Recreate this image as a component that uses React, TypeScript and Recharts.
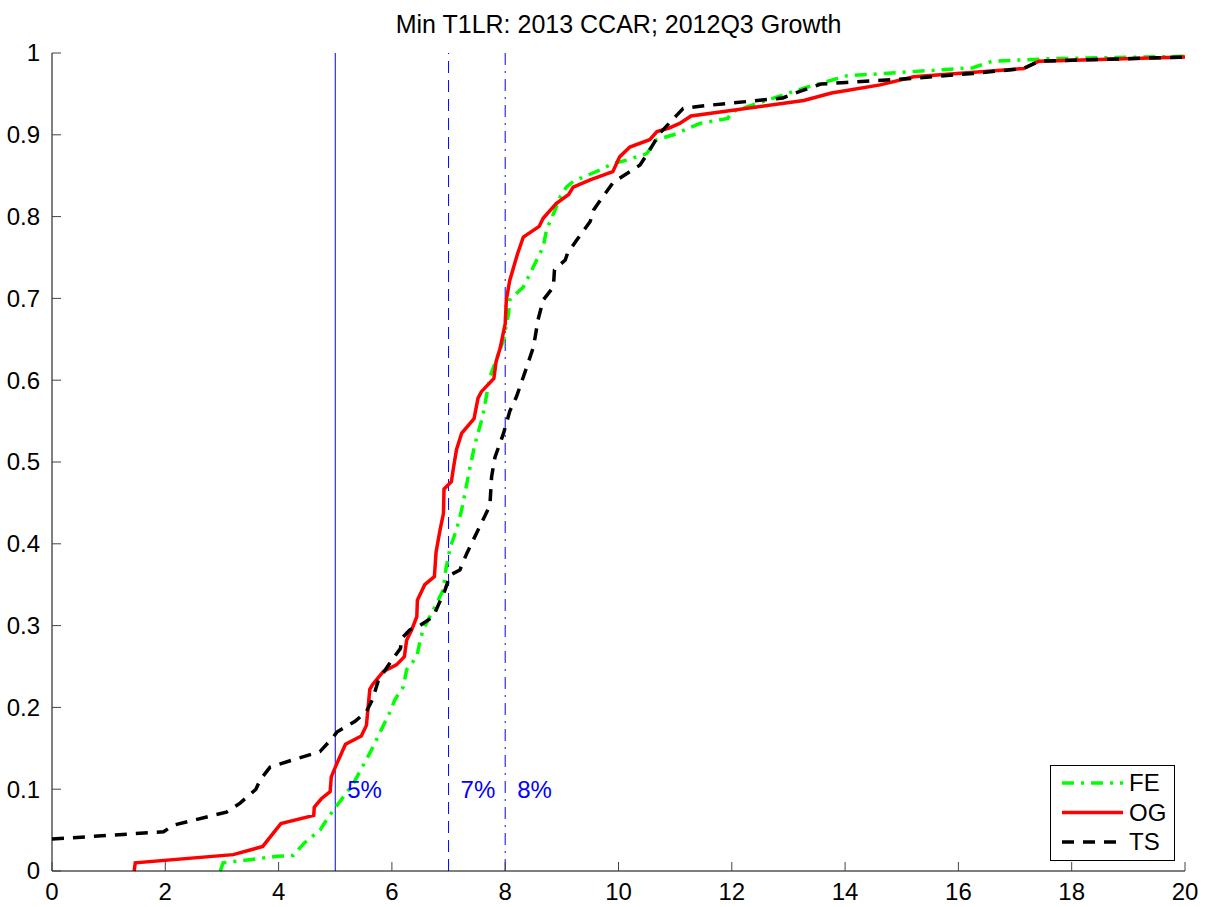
import { LineChart, Line, XAxis, YAxis, ReferenceLine, ReferenceDot, Legend } from 'recharts'

const FONT = '"Liberation Sans", Arial, sans-serif'

// FE: green dash-dot
const feX = [2.97, 3.02, 3.98, 4.26, 4.45, 4.73, 4.88, 5.03, 5.32, 5.61, 5.97, 6.05, 6.2, 6.26, 6.44, 6.5, 6.55, 6.73, 6.91, 6.94, 7.03, 7.14, 7.23, 7.29, 7.38, 7.47, 7.6, 7.73, 7.97, 8.06, 8.08, 8.32, 8.5, 8.67, 8.73, 8.88, 8.97, 9.08, 9.2, 9.67, 9.91, 10.14, 10.5, 10.67, 10.97, 11.44, 11.93, 12.0, 13.27, 14.02, 15.14, 16.26, 16.6, 17.6, 20]
const feY = [0, 0.01, 0.018, 0.019, 0.034, 0.05, 0.066, 0.08, 0.107, 0.144, 0.195, 0.209, 0.225, 0.246, 0.262, 0.282, 0.295, 0.319, 0.344, 0.364, 0.396, 0.417, 0.441, 0.462, 0.494, 0.523, 0.555, 0.604, 0.649, 0.682, 0.698, 0.714, 0.739, 0.763, 0.784, 0.808, 0.824, 0.836, 0.843, 0.857, 0.865, 0.869, 0.877, 0.894, 0.9, 0.914, 0.92, 0.928, 0.957, 0.972, 0.977, 0.982, 0.99, 0.993, 0.996]

// OG: red solid
const ogX = [1.45, 1.47, 3.2, 3.72, 4.04, 4.62, 4.63, 4.75, 4.91, 4.93, 5.02, 5.18, 5.46, 5.55, 5.58, 5.61, 5.66, 5.85, 6.08, 6.22, 6.26, 6.35, 6.44, 6.45, 6.58, 6.75, 6.78, 6.85, 6.91, 6.92, 7.05, 7.08, 7.14, 7.23, 7.45, 7.52, 7.58, 7.8, 7.84, 7.91, 8.0, 8.02, 8.08, 8.22, 8.32, 8.6, 8.67, 8.9, 9.12, 9.2, 9.5, 9.9, 10.02, 10.2, 10.55, 10.68, 10.88, 11.08, 11.28, 13.27, 13.76, 14.62, 15.21, 17.15, 17.42, 20]
const ogY = [0, 0.01, 0.02, 0.03, 0.058, 0.068, 0.078, 0.088, 0.097, 0.115, 0.13, 0.155, 0.165, 0.178, 0.2, 0.222, 0.228, 0.244, 0.252, 0.262, 0.282, 0.295, 0.311, 0.331, 0.35, 0.36, 0.39, 0.417, 0.437, 0.467, 0.476, 0.49, 0.515, 0.535, 0.553, 0.578, 0.586, 0.602, 0.623, 0.639, 0.669, 0.698, 0.722, 0.755, 0.775, 0.788, 0.798, 0.816, 0.827, 0.836, 0.845, 0.855, 0.873, 0.885, 0.894, 0.904, 0.908, 0.914, 0.923, 0.942, 0.951, 0.961, 0.971, 0.981, 0.99, 0.995]

// TS: black dashed
const tsX = [0, 1.97, 2.14, 3.08, 3.32, 3.6, 3.67, 3.85, 4.26, 4.73, 4.97, 5.03, 5.35, 5.55, 5.66, 5.76, 6.0, 6.15, 6.18, 6.32, 6.47, 6.73, 6.94, 7.03, 7.2, 7.32, 7.55, 7.73, 7.76, 7.82, 7.97, 8.08, 8.2, 8.38, 8.5, 8.58, 8.67, 8.85, 8.87, 9.06, 9.1, 9.26, 9.5, 9.56, 9.68, 9.91, 10.38, 10.53, 10.73, 11.03, 11.14, 11.44, 12.9, 13.2, 13.57, 14.02, 15.21, 16.26, 17.15, 17.42, 20]
const tsY = [0.039, 0.048, 0.056, 0.072, 0.083, 0.1, 0.111, 0.127, 0.136, 0.146, 0.164, 0.17, 0.183, 0.195, 0.21, 0.233, 0.258, 0.272, 0.285, 0.295, 0.299, 0.311, 0.344, 0.362, 0.368, 0.388, 0.421, 0.447, 0.482, 0.506, 0.535, 0.562, 0.58, 0.616, 0.641, 0.674, 0.698, 0.714, 0.735, 0.747, 0.755, 0.771, 0.794, 0.808, 0.82, 0.842, 0.863, 0.879, 0.902, 0.924, 0.932, 0.935, 0.945, 0.953, 0.962, 0.964, 0.969, 0.975, 0.981, 0.99, 0.995]

const xTicks = [0, 2, 4, 6, 8, 10, 12, 14, 16, 18, 20]
const yTicks = [0, 0.1, 0.2, 0.3, 0.4, 0.5, 0.6, 0.7, 0.8, 0.9, 1]
const yTickLabels = ['0', '0.1', '0.2', '0.3', '0.4', '0.5', '0.6', '0.7', '0.8', '0.9', '1']

const cutoffs = [5, 7, 8]
const cutoffLabels = ['5%', '7%', '8%']
const cutoffDash = [undefined, '12 7', '12 6 2 6']
const cutoffLabelY = 0.1

const seriesNames = ['FE', 'OG', 'TS']
const seriesColors = ['#00ff00', '#ff0000', '#000000']
const seriesDash = ['12 7 3 7', undefined, '12 9']

const toPoints = (xs: number[], ys: number[]) => xs.map((x, i) => ({ x, y: ys[i] }))
const seriesData = [toPoints(feX, feY), toPoints(ogX, ogY), toPoints(tsX, tsY)]

const TICK_GAP = 12
const TICK_LEN = 9
const FS = 24

function YTick(props: any) {
  const { x, y, payload } = props
  const i = yTicks.indexOf(payload.value)
  return (
    <g>
      <line x1={x + TICK_GAP} x2={x + TICK_GAP + TICK_LEN} y1={y} y2={y} stroke="#444" />
      <text x={x} y={y} dy="0.35em" textAnchor="end" fontSize={FS} fontFamily={FONT} fill="#000">
        {i >= 0 ? yTickLabels[i] : payload.value}
      </text>
    </g>
  )
}

function XTick(props: any) {
  const { x, y, payload } = props
  return (
    <g>
      <line x1={x} x2={x} y1={y - TICK_GAP} y2={y - TICK_GAP - TICK_LEN} stroke="#444" />
      <text x={x} y={y} dy="0.72em" textAnchor="middle" fontSize={FS} fontFamily={FONT} fill="#000">
        {payload.value}
      </text>
    </g>
  )
}

function LegendBox() {
  return (
    <svg width={126} height={97} style={{ display: 'block' }}>
      <rect x={0.5} y={0.5} width={124} height={95} fill="#fff" stroke="#000" />
      {seriesNames.map((name, i) => {
        const cy = 18 + i * 29.5
        return (
          <g key={name}>
            <line x1={12} x2={73} y1={cy} y2={cy} stroke={seriesColors[i]} strokeWidth={3.5} strokeDasharray={seriesDash[i]} />
            <text x={79} y={cy} dy="0.35em" fontSize={FS} fontFamily={FONT} fill="#000">{name}</text>
          </g>
        )
      })}
    </svg>
  )
}

export default function App() {
  return (
    <div style={{ position: 'absolute', left: 0, top: 0, width: 1214, height: 907, background: '#fff' }}>
      <div style={{ position: 'absolute', left: 52, width: 1133, top: 10, textAlign: 'center', fontFamily: FONT, fontSize: 25 }}>
        Min T1LR: 2013 CCAR; 2012Q3 Growth
      </div>
      <LineChart width={1214} height={907} margin={{ top: 53, right: 29, bottom: 0, left: 0 }}>
        <XAxis
          type="number"
          dataKey="x"
          domain={[0, 20]}
          ticks={xTicks}
          tickLine={false}
          tickSize={0}
          tickMargin={TICK_GAP}
          axisLine={{ stroke: '#000' }}
          height={36}
          tick={<XTick />}
          allowDuplicatedCategory={false}
        />
        <YAxis
          type="number"
          domain={[0, 1]}
          ticks={yTicks}
          tickLine={false}
          tickSize={0}
          tickMargin={TICK_GAP}
          axisLine={{ stroke: '#000' }}
          width={52}
          tick={<YTick />}
        />
        {cutoffs.map((c, i) => (
          <ReferenceLine key={c} x={c} stroke="#0000ff" strokeWidth={1} strokeDasharray={cutoffDash[i]} />
        ))}
        {seriesData.map((d, i) => (
          <Line
            key={seriesNames[i]}
            data={d}
            dataKey="y"
            name={seriesNames[i]}
            type="linear"
            stroke={seriesColors[i]}
            strokeWidth={3.5}
            strokeDasharray={seriesDash[i]}
            dot={false}
            isAnimationActive={false}
          />
        ))}
        {cutoffs.map((c, i) => (
          <ReferenceDot
            key={'l' + c}
            x={c}
            y={cutoffLabelY}
            r={0}
            fill="none"
            stroke="none"
            label={{ value: cutoffLabels[i], position: 'right', offset: 12, fill: '#0000ff', fontSize: FS, fontFamily: FONT }}
          />
        ))}
        <Legend
          layout="vertical"
          align="center"
          verticalAlign="middle"
          wrapperStyle={{ left: 1050, top: 765, width: 126, height: 97 }}
          content={() => <LegendBox />}
        />
      </LineChart>
    </div>
  )
}
